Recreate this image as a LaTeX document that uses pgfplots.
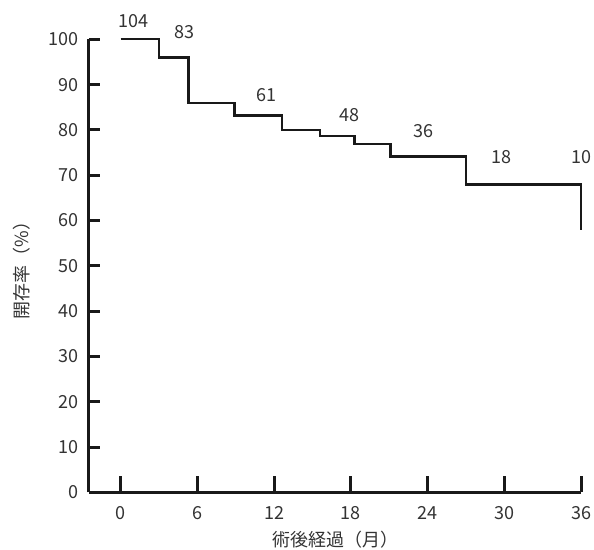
\documentclass[border=0pt]{standalone}
\usepackage{fontspec}
\setmainfont{Noto Sans CJK JP}
\usepackage{pgfplots}
\pgfplotsset{compat=1.18}
\begin{document}
\fontsize{9pt}{11pt}\selectfont
\begin{tikzpicture}
\path[use as bounding box] (-44.5pt,-28.75pt) rectangle (252.5pt,246.25pt);
\begin{axis}[
  at={(0,0)}, anchor=south west,
  scale only axis,
  width=246pt, height=226.6pt,
  xmin=-2.48, xmax=36, ymin=0, ymax=100,
  axis lines*=left,
  axis line style={line width=1.5pt, black!90},
  xtick={0,6,12,18,24,30,36},
  ytick={0,10,...,100},
  tick align=inside,
  xtick style={line width=1.5pt, black!90, /pgfplots/major tick length=8pt},
  ytick style={line width=1.5pt, black!90, /pgfplots/major tick length=5.5pt},
  /pgf/number format/assume math mode=true,
  ticklabel style={font=\fontsize{9pt}{11pt}\selectfont, text=black!80},
  xticklabel style={yshift=-4pt},
  yticklabel style={xshift=-2pt},
  xlabel={術後経過（月）},
  ylabel={開存率（\%）},
  xlabel style={at={(axis description cs:0.5,0)}, anchor=center, yshift=-23.75pt, text=black!80},
  ylabel style={at={(axis description cs:-0.136,0.5)}, anchor=center, text=black!80},
  clip=false,
]
\addplot[const plot, line width=1.2pt, black!90] coordinates {
  (0,100) (3,96) (5.3,86) (8.9,83.2) (12.6,80) (15.6,78.7) (18.3,76.9) (21.1,74.1) (27,68) (36,68) (36,58)
};
\begin{scope}[every node/.style={text=black!80, font=\fontsize{9pt}{11pt}\selectfont}]
\node at (axis cs:1.0,104.1) {104};
\node at (axis cs:5.0,101.6) {83};
\node at (axis cs:11.4,87.6) {61};
\node at (axis cs:17.9,83.3) {48};
\node at (axis cs:23.7,79.8) {36};
\node at (axis cs:29.8,73.9) {18};
\node at (axis cs:36.0,73.9) {10};
\end{scope}
\end{axis}
\end{tikzpicture}
\end{document}
